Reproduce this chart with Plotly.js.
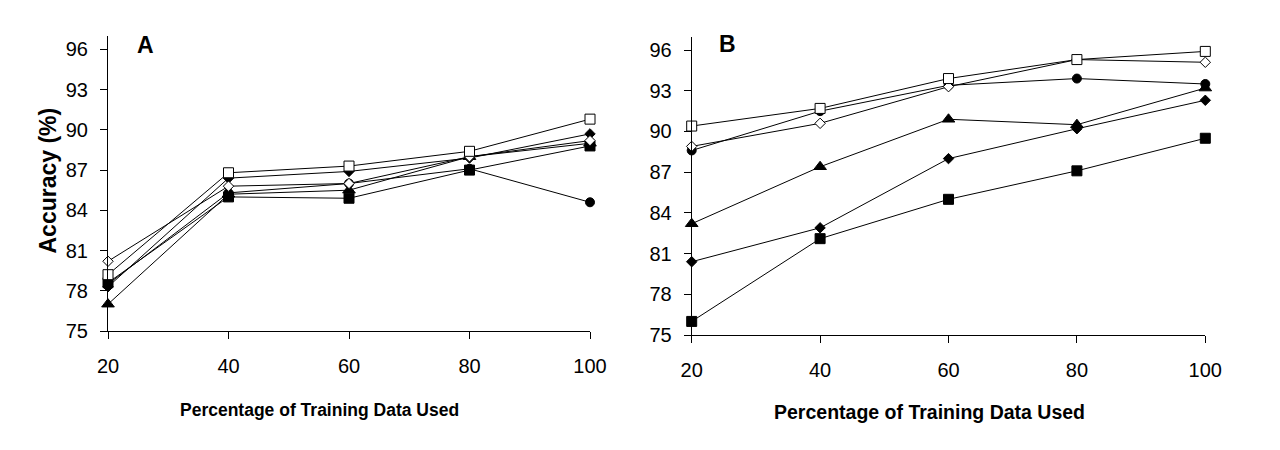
<!DOCTYPE html>
<html>
<head>
<meta charset="utf-8">
<script src="https://cdn.plot.ly/plotly-3.0.1.min.js"></script>
<style>html,body{margin:0;padding:0;background:#fff;}#chart{width:1280px;height:450px;}</style>
</head>
<body>
<div id="chart"></div>
<script>
// ---- data ----
const xVals = [20, 40, 60, 80, 100];
const yTicks = [75, 78, 81, 84, 87, 90, 93, 96];

// Panel A
const aOpenSquare    = [79.2, 86.8, 87.3, 88.4, 90.8];
const aOpenDiamond   = [80.2, 85.8, 86.0, 88.0, 89.2];
const aFilledDiamond = [78.3, 86.4, 86.9, 87.9, 89.7];
const aCircle        = [78.5, 85.3, 86.0, 87.1, 84.6];
const aTriangle      = [77.0, 85.2, 85.5, 88.0, 89.0];
const aFilledSquare  = [78.6, 85.0, 84.9, 87.0, 88.8];

// Panel B
const bOpenSquare    = [90.4, 91.7, 93.9, 95.3, 95.9];
const bOpenDiamond   = [88.9, 90.6, 93.3, 95.3, 95.1];
const bCircle        = [88.6, 91.5, 93.4, 93.9, 93.5];
const bTriangle      = [83.2, 87.4, 90.9, 90.5, 93.2];
const bFilledDiamond = [80.4, 82.9, 88.0, 90.2, 92.3];
const bFilledSquare  = [76.0, 82.1, 85.0, 87.1, 89.5];

const FONT = 'Liberation Sans, Arial, sans-serif';

const styles = {
  filledSquare:  {symbol: 'square',       size: 10, color: '#000'},
  filledDiamond: {symbol: 'diamond',      size: 8,  color: '#000'},
  triangle:      {symbol: 'triangle-up',  size: 11, color: '#000'},
  circle:        {symbol: 'circle',       size: 9,  color: '#000'},
  openDiamond:   {symbol: 'diamond',      size: 8,  color: '#fff'},
  openSquare:    {symbol: 'square',       size: 10, color: '#fff'}
};

function tr(y, style, xa, ya) {
  return {
    x: xVals, y: y, xaxis: xa, yaxis: ya,
    type: 'scatter', mode: 'lines+markers', cliponaxis: false,
    line: {color: '#000', width: 1},
    marker: {symbol: style.symbol, size: style.size, color: style.color,
             line: {color: '#000', width: 1}},
    hoverinfo: 'x+y'
  };
}

const data = [
  tr(aFilledSquare,  styles.filledSquare,  'x', 'y'),
  tr(aFilledDiamond, styles.filledDiamond, 'x', 'y'),
  tr(aTriangle,      styles.triangle,      'x', 'y'),
  tr(aCircle,        styles.circle,        'x', 'y'),
  tr(aOpenDiamond,   styles.openDiamond,   'x', 'y'),
  tr(aOpenSquare,    styles.openSquare,    'x', 'y'),
  tr(bFilledSquare,  styles.filledSquare,  'x2', 'y2'),
  tr(bFilledDiamond, styles.filledDiamond, 'x2', 'y2'),
  tr(bTriangle,      styles.triangle,      'x2', 'y2'),
  tr(bCircle,        styles.circle,        'x2', 'y2'),
  tr(bOpenDiamond,   styles.openDiamond,   'x2', 'y2'),
  tr(bOpenSquare,    styles.openSquare,    'x2', 'y2')
];

function xAxis(domain, anchor) {
  return {
    domain: domain, anchor: anchor, range: [20, 100],
    tickvals: xVals, ticktext: xVals.map(String),
    ticks: 'outside', ticklen: 7, tickwidth: 1, tickcolor: '#000',
    showline: true, linecolor: '#000', linewidth: 1,
    showgrid: false, zeroline: false, fixedrange: true,
    ticklabelstandoff: 10,
    tickfont: {family: FONT, size: 20, color: '#000'}
  };
}
function yAxis(domain, anchor) {
  return {
    domain: domain, anchor: anchor, range: [75, 97],
    tickvals: yTicks, ticktext: yTicks.map(String),
    ticks: 'outside', ticklen: 7, tickwidth: 1, tickcolor: '#000',
    showline: true, linecolor: '#000', linewidth: 1,
    showgrid: false, zeroline: false, fixedrange: true,
    ticklabelstandoff: 8,
    tickfont: {family: FONT, size: 20, color: '#000'}
  };
}

const layout = {
  width: 1280, height: 450,
  margin: {l: 0, r: 0, t: 0, b: 0},
  paper_bgcolor: '#fff', plot_bgcolor: '#fff',
  showlegend: false,
  xaxis:  xAxis([108/1280, 590/1280], 'y'),
  yaxis:  yAxis([(450-331)/450, (450-36)/450], 'x'),
  xaxis2: xAxis([691.7/1280, 1205.3/1280], 'y2'),
  yaxis2: yAxis([(450-335)/450, (450-36.5)/450], 'x2'),
  annotations: [
    {text: '<b>A</b>', xref: 'paper', yref: 'paper', x: 145.5/1280, y: (450-44.5)/450,
     showarrow: false, xanchor: 'center', yanchor: 'middle',
     font: {family: FONT, size: 23, color: '#000'}},
    {text: '<b>B</b>', xref: 'paper', yref: 'paper', x: 727.5/1280, y: (450-44)/450,
     showarrow: false, xanchor: 'center', yanchor: 'middle',
     font: {family: FONT, size: 23, color: '#000'}},
    {text: '<b>Accuracy (%)</b>', xref: 'paper', yref: 'paper', x: 47.5/1280, y: (450-181)/450,
     textangle: -90, showarrow: false, xanchor: 'center', yanchor: 'middle',
     font: {family: FONT, size: 23, color: '#000'}},
    {text: '<b>Percentage of Training Data Used</b>', xref: 'paper', yref: 'paper',
     x: 319/1280, y: (450-410)/450, showarrow: false, xanchor: 'center', yanchor: 'middle',
     font: {family: FONT, size: 17.5, color: '#000'}},
    {text: '<b>Percentage of Training Data Used</b>', xref: 'paper', yref: 'paper',
     x: 929/1280, y: (450-411.7)/450, showarrow: false, xanchor: 'center', yanchor: 'middle',
     font: {family: FONT, size: 19.5, color: '#000'}}
  ]
};

Plotly.newPlot('chart', data, layout, {staticPlot: true, displayModeBar: false});
</script>
</body>
</html>
